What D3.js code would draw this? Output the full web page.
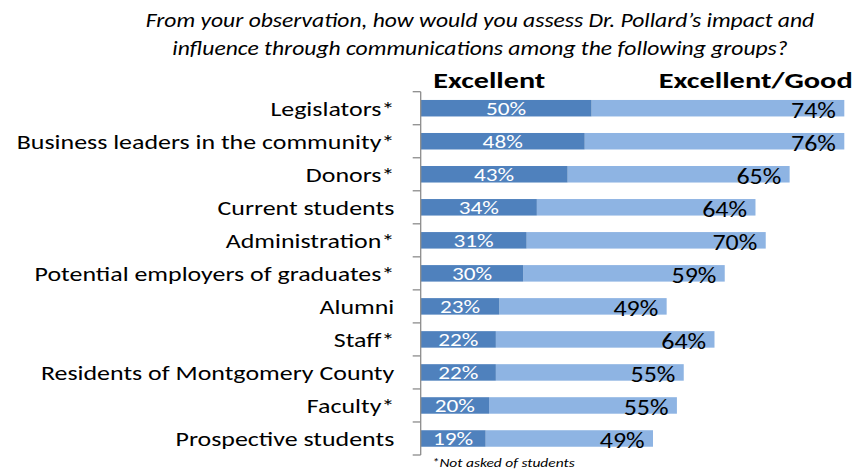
<!DOCTYPE html>
<html>
<head>
<meta charset="utf-8">
<script src="https://cdn.jsdelivr.net/npm/d3@7"></script>
<style>
  html, body { margin: 0; padding: 0; background: #fff; }
  svg { display: block; }
  text { font-family: Carlito, Lato, "Open Sans", sans-serif; }
</style>
</head>
<body>
<script>
// Survey groups, top to bottom
const categories = [
  "Legislators*",
  "Business leaders in the community*",
  "Donors*",
  "Current students",
  "Administration*",
  "Potential employers of graduates*",
  "Alumni",
  "Staff*",
  "Residents of Montgomery County",
  "Faculty*",
  "Prospective students"
];
// Percent rating "Excellent"
const excellent = [50, 48, 43, 34, 31, 30, 23, 22, 22, 20, 19];
// Percent rating "Excellent" or "Good"
const excellentGood = [74, 76, 65, 64, 70, 59, 49, 64, 55, 55, 49];

const titleLines = [
  "From your observation, how would you assess Dr. Pollard\u2019s impact and",
  "influence through communications among the following groups?"
];
const seriesNames = ["Excellent", "Excellent/Good"];
const footnote = "*Not asked of students";

const W = 855, H = 473;
const margin = { left: 420.7, right: 10.7, top: 91.7, bottom: 18 };

const svg = d3.select("body").append("svg")
  .attr("width", W).attr("height", H);

const rows = categories.map((c, i) => ({ cat: c, e: excellent[i], eg: excellentGood[i] }));

// The two series are stacked: the Excellent/Good bar starts where Excellent ends
const x = d3.scaleLinear().domain([0, 124]).range([margin.left, W - margin.right]);
const y = d3.scaleBand().domain(categories)
  .range([margin.top, H - margin.bottom])
  .paddingInner(0.5).paddingOuter(0.25);

const dark = "#4F81BD", light = "#8EB4E3";

const g = svg.append("g");

// Excellent/Good segment
g.selectAll("rect.eg").data(rows).join("rect")
  .attr("class", "eg")
  .attr("x", d => x(d.e))
  .attr("y", d => y(d.cat))
  .attr("width", d => x(d.e + d.eg) - x(d.e))
  .attr("height", y.bandwidth())
  .attr("fill", light);

// Excellent segment
g.selectAll("rect.e").data(rows).join("rect")
  .attr("class", "e")
  .attr("x", x(0))
  .attr("y", d => y(d.cat))
  .attr("width", d => x(d.e) - x(0))
  .attr("height", y.bandwidth())
  .attr("fill", dark);

// Category axis with outward ticks at band boundaries
const axisColor = "#8c8c8c";
const axisG = svg.append("g");
axisG.append("line")
  .attr("x1", x(0)).attr("x2", x(0))
  .attr("y1", y.range()[0]).attr("y2", y.range()[1])
  .attr("stroke", axisColor).attr("stroke-width", 1.3);
const bounds = d3.range(categories.length + 1).map(i => y.range()[0] + i * y.step());
axisG.selectAll("line.tick").data(bounds).join("line")
  .attr("class", "tick")
  .attr("x1", x(0) - 8).attr("x2", x(0))
  .attr("y1", d => d).attr("y2", d => d)
  .attr("stroke", axisColor).attr("stroke-width", 1.3);

// Category labels
svg.append("g").selectAll("text").data(rows).join("text")
  .attr("transform", d => `translate(${x(0) - 26.4},${y(d.cat) + y.bandwidth() / 2 + 8}) scale(1.235,1)`)
  .attr("text-anchor", "end")
  .attr("font-size", 21)
  .attr("fill", "#000")
  .text(d => d.cat);

// Excellent values, centered in the dark segment
svg.append("g").selectAll("text").data(rows).join("text")
  .attr("transform", d => `translate(${(x(0) + x(d.e)) / 2},${y(d.cat) + y.bandwidth() / 2 + 7}) scale(1.29,1)`)
  .attr("text-anchor", "middle")
  .attr("font-size", 18)
  .attr("fill", "#fff")
  .text(d => d.e + "%");

// Excellent/Good values, right-aligned inside the end of the stack
svg.append("g").selectAll("text").data(rows).join("text")
  .attr("transform", d => `translate(${x(d.e + d.eg) - 8.4},${y(d.cat) + y.bandwidth() / 2 + 10}) scale(1.18,1)`)
  .attr("text-anchor", "end")
  .attr("font-size", 22)
  .attr("fill", "#000")
  .text(d => d.eg + "%");

// Column headers
svg.append("text")
  .attr("transform", `translate(433.3,88.3) scale(1.37,1)`)
  .attr("font-size", 22).attr("font-weight", "bold")
  .text(seriesNames[0]);
svg.append("text")
  .attr("transform", `translate(852.7,87.5) scale(1.38,1)`)
  .attr("text-anchor", "end")
  .attr("font-size", 22).attr("font-weight", "bold")
  .text(seriesNames[1]);

// Title
svg.append("g").selectAll("text").data(titleLines).join("text")
  .attr("transform", (d, i) => `translate(480,${27.3 + i * 27.7}) scale(1.18,1)`)
  .attr("text-anchor", "middle")
  .attr("font-size", 20).attr("font-style", "italic")
  .text(d => d);

// Footnote
svg.append("text")
  .attr("transform", `translate(431.7,466.5) scale(1.29,1)`)
  .attr("font-size", 12).attr("font-style", "italic")
  .text(footnote);
</script>
</body>
</html>
